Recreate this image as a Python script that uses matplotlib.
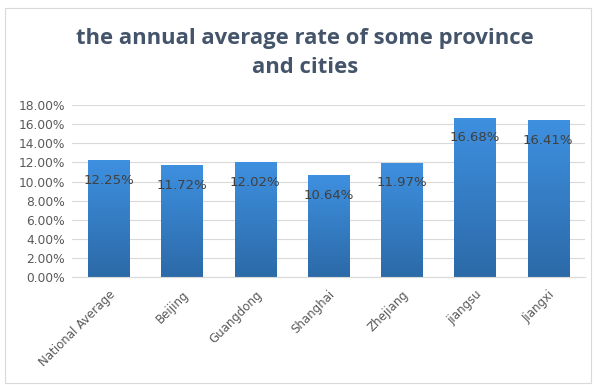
import numpy as np
import matplotlib.pyplot as plt
from matplotlib.patches import Rectangle
from matplotlib.colors import LinearSegmentedColormap

regions = ['National Average', 'Beijing', 'Guangdong', 'Shanghai', 'Zhejiang', 'jiangsu', 'Jiangxi']
rates = [12.25, 11.72, 12.02, 10.64, 11.97, 16.68, 16.41]
yticks = [0, 2, 4, 6, 8, 10, 12, 14, 16, 18]

fig = plt.figure(figsize=(5.95, 3.85), dpi=100)
ax = fig.add_axes([0.121, 0.2805, 0.862, 0.4465])

# frame round the whole chart
fig.patches.append(Rectangle((0.008, 0.005), 0.985, 0.975, transform=fig.transFigure,
                             fill=False, edgecolor='#d9d9d9', linewidth=0.8))

x = np.arange(len(regions))
bars = ax.bar(x, rates, width=0.56, color='#3a86d4', edgecolor='#5ba3e8', linewidth=0.6, zorder=2)

# vertical gradient inside each bar
cmap = LinearSegmentedColormap.from_list('blues', ['#2c6aa8', '#3e90e0'])
grad = np.linspace(0, 1, 256).reshape(-1, 1)
for b in bars:
    x0, w, h = b.get_x(), b.get_width(), b.get_height()
    im = ax.imshow(grad, cmap=cmap, origin='lower', aspect='auto',
                   extent=[x0, x0 + w, 0, h], zorder=2.5)
    im.set_clip_path(b)

for xi, v in zip(x, rates):
    ax.annotate(f'{v:.2f}%', (xi, v), xytext=(0, -14.5), textcoords='offset points',
                ha='center', va='center', fontsize=9.5, color='#404040', zorder=3)

ax.set_xlim(-0.5, len(regions) - 0.5)
ax.set_ylim(0, 18)
ax.set_yticks(yticks)
ax.set_yticklabels([f'{t:.2f}%' for t in yticks], fontsize=8.8, color='#595959')
ax.set_xticks(x)
ax.set_xticklabels(regions, rotation=45, ha='right', rotation_mode='anchor',
                   fontsize=8.5, color='#595959')
ax.tick_params(length=0, pad=5)
ax.tick_params(axis='x', pad=8)
ax.grid(axis='y', color='#d9d9d9', linewidth=0.8, zorder=0)
for side in ['top', 'right', 'left']:
    ax.spines[side].set_visible(False)
ax.spines['bottom'].set_color('#d9d9d9')

fig.text(0.512, 0.862, 'the annual average rate of some province\nand cities', ha='center', va='center',
         fontsize=15.8, fontweight='bold', color='#44546a', family='Open Sans', linespacing=1.5)

plt.savefig('out.png', dpi=100)
